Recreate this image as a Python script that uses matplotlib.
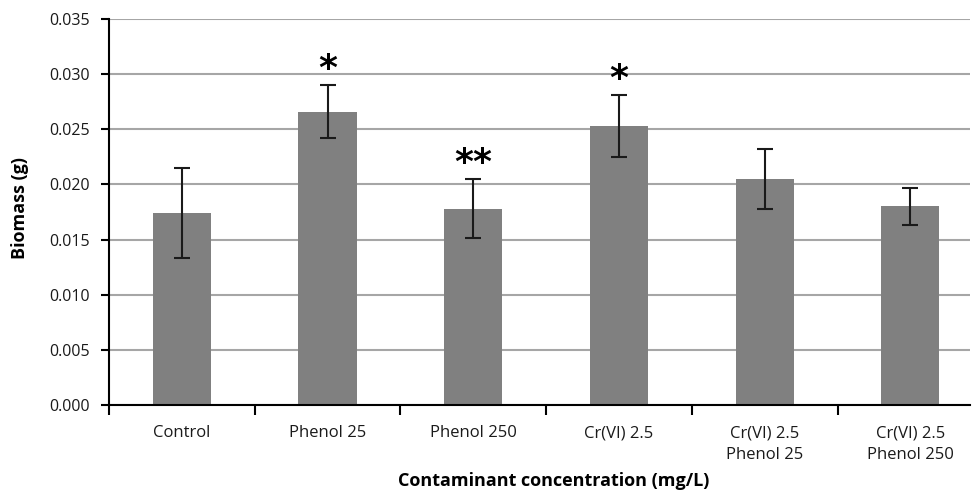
import numpy as np
import matplotlib.pyplot as plt
from matplotlib.ticker import FixedLocator, NullFormatter

# -----------------------------
# DATA
# -----------------------------
categories = ["Control", "Phenol 25", "Phenol 250", "Cr(VI) 2.5",
              "Cr(VI) 2.5\nPhenol 25", "Cr(VI) 2.5\nPhenol 250"]
biomass = [0.0174, 0.0266, 0.0178, 0.0253, 0.0205, 0.0180]
errors = [0.0041, 0.0024, 0.0027, 0.0028, 0.0027, 0.0017]
marks = ["", "*", "**", "*", "", ""]
yticks = [0.000, 0.005, 0.010, 0.015, 0.020, 0.025, 0.030, 0.035]

plt.rcParams["font.family"] = ["Open Sans", "DejaVu Sans"]

# -----------------------------
# LAYOUT (pixel based)
# -----------------------------
W, H = 972, 496
left, right, top, bottom = 109, 970, 19, 405
cat_w = 145.7

fig = plt.figure(figsize=(W / 100, H / 100), dpi=100)
ax = fig.add_axes([left / W, 1 - bottom / H, (right - left) / W, (bottom - top) / H])

x = np.arange(len(categories))
ax.bar(x, biomass, width=0.40, color="#808080", zorder=2)
ax.errorbar(x, biomass, yerr=errors, fmt="none", ecolor="#1a1a1a",
            elinewidth=1.5, capsize=6, capthick=1.5, zorder=3)

for xi, m, v, e in zip(x, marks, biomass, errors):
    if m:
        ax.text(xi, v + e - 0.0001, m, ha="center", va="bottom",
                fontsize=26, fontweight="bold", family="DejaVu Sans", zorder=4)

ax.set_ylim(0, 0.035)
ax.set_yticks(yticks)
ax.set_yticklabels(["%.3f" % t for t in yticks])
ax.yaxis.grid(True, color="#a6a6a6", linewidth=1.5, zorder=0)
ax.set_axisbelow(True)

ax.set_xlim(-0.5, (right - left) / cat_w - 0.5)
ax.xaxis.set_major_locator(FixedLocator(np.arange(-0.5, 6.0, 1.0)))
ax.xaxis.set_major_formatter(NullFormatter())
for xi, lab in zip(x, categories):
    ax.text(xi, -0.00185, lab, ha="center", va="top", fontsize=12,
            linespacing=1.45, color="#1a1a1a")

for s in ["top", "right"]:
    ax.spines[s].set_visible(False)
ax.spines["left"].set_linewidth(1.5)
ax.spines["bottom"].set_linewidth(1.5)
ax.tick_params(axis="y", direction="out", length=6, width=1.5,
               labelsize=11.5, pad=8, labelcolor="#1a1a1a")
ax.tick_params(axis="x", direction="out", length=7, width=1.5)

fig.text(20 / W, 1 - 208 / H, "Biomass (g)", rotation=90, ha="center",
         va="center", fontsize=13, fontweight="bold")
fig.text(554 / W, 1 - 481 / H, "Contaminant concentration (mg/L)",
         ha="center", va="center", fontsize=13, fontweight="bold")

fig.savefig("out.png", dpi=100)
